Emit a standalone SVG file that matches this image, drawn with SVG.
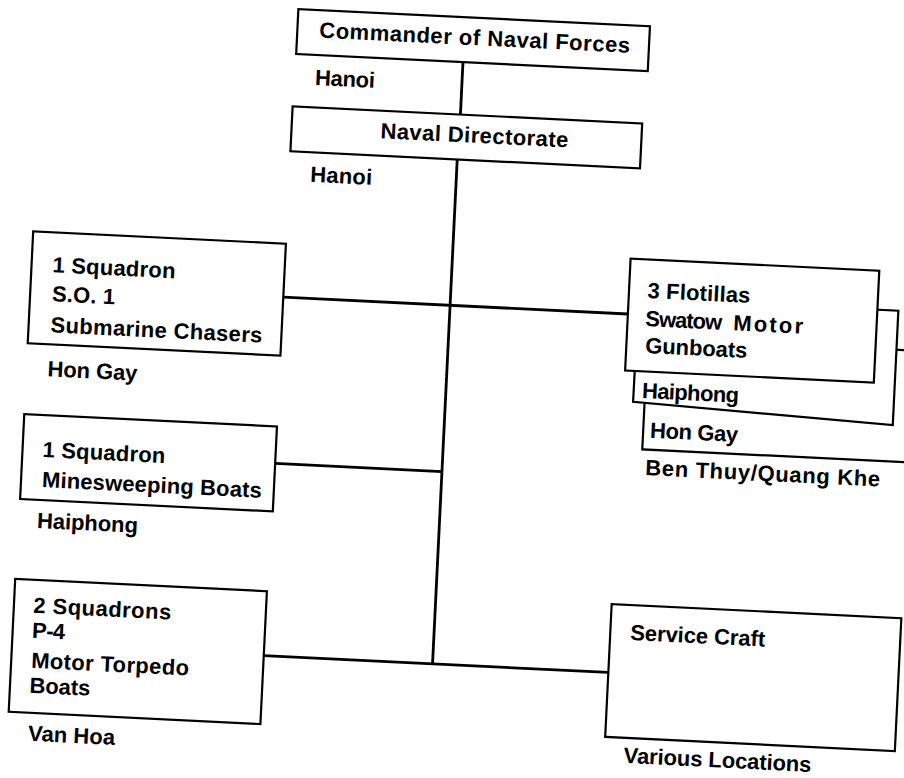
<svg xmlns="http://www.w3.org/2000/svg" width="904" height="778" viewBox="0 0 904 778">
<style>
.box{fill:#fff;stroke:#000;stroke-width:2.2}
.conn{stroke:#000;stroke-width:2.8;fill:none}
text{font-family:"Liberation Sans",Arial,Helvetica,sans-serif;font-weight:bold;font-size:22px;fill:#000}
</style>
<rect width="904" height="778" fill="#fff"/>
<g transform="rotate(2.8 452 389)">
<g id="connectors">
<line class="conn" x1="447" y1="62" x2="447" y2="114.5"/>
<line class="conn" x1="446" y1="159.5" x2="446" y2="665"/>
<line class="conn" x1="279" y1="305.5" x2="624" y2="305.5"/>
<line class="conn" x1="279" y1="472" x2="446" y2="472"/>
<line class="conn" x1="277" y1="664.5" x2="622" y2="664.5"/>
</g>
<g id="commander">
<rect class="box" x="280" y="17" width="352" height="45"/>
<text x="302" y="44.5" textLength="311" lengthAdjust="spacing">Commander of Naval Forces</text>
<text x="300" y="92" textLength="60" lengthAdjust="spacing">Hanoi</text>
</g>
<g id="directorate">
<rect class="box" x="279" y="114.5" width="350" height="45"/>
<text x="368" y="142" textLength="188" lengthAdjust="spacing">Naval Directorate</text>
<text x="300" y="189" textLength="62" lengthAdjust="spacing">Hanoi</text>
</g>
<g id="subchasers">
<rect class="box" x="26" y="252" width="253" height="112"/>
<text x="47" y="292" textLength="123" lengthAdjust="spacing">1 Squadron</text>
<text x="48" y="321" textLength="63" lengthAdjust="spacing">S.O. 1</text>
<text x="48" y="352" textLength="212" lengthAdjust="spacing">Submarine Chasers</text>
<text x="47" y="396" textLength="90" lengthAdjust="spacing">Hon Gay</text>
</g>
<g id="minesweepers">
<rect class="box" x="26" y="435" width="253" height="85"/>
<text x="46" y="477" textLength="123" lengthAdjust="spacing">1 Squadron</text>
<text x="47" y="507" textLength="220" lengthAdjust="spacing">Minesweeping Boats</text>
<text x="44" y="548" textLength="101" lengthAdjust="spacing">Haiphong</text>
</g>
<g id="torpedo">
<rect class="box" x="25" y="600" width="252" height="133"/>
<text x="44.5" y="633" textLength="138" lengthAdjust="spacing">2 Squadrons</text>
<text x="44.5" y="658" textLength="33" lengthAdjust="spacing">P-4</text>
<text x="45" y="688" textLength="158" lengthAdjust="spacing">Motor Torpedo</text>
<text x="44.5" y="713" textLength="61" lengthAdjust="spacing">Boats</text>
<text x="45.5" y="761" textLength="87" lengthAdjust="spacing">Van Hoa</text>
</g>
<g id="flotillas">
<polygon class="box" points="645,328 920,328 920,440 645,440"/>
<polygon class="box" points="634,289 894,289 894,403.5 633.5,393"/>
<rect class="box" x="624" y="250" width="249" height="112"/>
<text x="642.5" y="288.5" textLength="103" lengthAdjust="spacing">3 Flotillas</text>
<text x="641.7" y="316.7" textLength="77" lengthAdjust="spacing">Swatow</text>
<text x="729.7" y="316.7" textLength="70" lengthAdjust="spacing">Motor</text>
<text x="643" y="343.6" textLength="102" lengthAdjust="spacing">Gunboats</text>
<text x="642" y="388.7" textLength="97" lengthAdjust="spacing">Haiphong</text>
<text x="652" y="428" textLength="88" lengthAdjust="spacing">Hon Gay</text>
<text x="649" y="465.5" textLength="235" lengthAdjust="spacing">Ben Thuy/Quang Khe</text>
</g>
<g id="servicecraft">
<rect class="box" x="622" y="596" width="290" height="133"/>
<text x="642" y="631" textLength="135" lengthAdjust="spacing">Service Craft</text>
<text x="641.4" y="754" textLength="188" lengthAdjust="spacing">Various Locations</text>
</g>
</g>
</svg>
